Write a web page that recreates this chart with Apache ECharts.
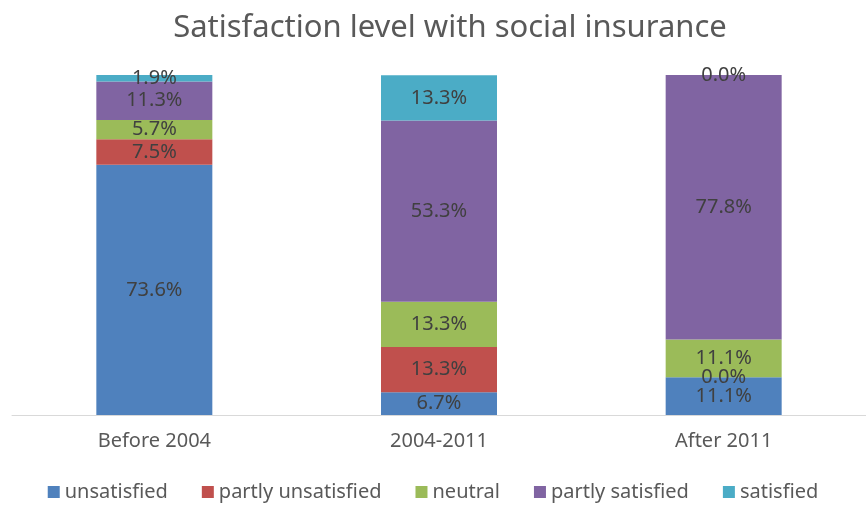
<!DOCTYPE html>
<html>
<head>
<meta charset="utf-8">
<script src="https://cdn.jsdelivr.net/npm/echarts@6/dist/echarts.min.js"></script>
<style>html,body{margin:0;padding:0;background:#fff}#c{width:866px;height:508px}</style>
</head>
<body>
<div id="c"></div>
<script>
const categories = ['Before 2004', '2004-2011', 'After 2011'];
const unsatisfied = [73.6, 6.7, 11.1];
const partlyUnsatisfied = [7.5, 13.3, 0.0];
const neutral = [5.7, 13.3, 11.1];
const partlySatisfied = [11.3, 53.3, 77.8];
const satisfied = [1.9, 13.3, 0.0];
const seriesNames = ['unsatisfied', 'partly unsatisfied', 'neutral', 'partly satisfied', 'satisfied'];
const colors = ['#4F81BD', '#C0504D', '#9BBB59', '#8064A2', '#4BACC6'];
const dataSets = [unsatisfied, partlyUnsatisfied, neutral, partlySatisfied, satisfied];

const FONT = 'Noto Sans';
const chart = echarts.init(document.getElementById('c'));
chart.setOption({
  backgroundColor: '#fff',
  animation: false,
  title: {
    text: 'Satisfaction level with social insurance',
    left: 445, top: 8, textAlign: 'center',
    textStyle: { fontFamily: FONT, fontSize: 31, fontWeight: 'normal', color: '#595959' }
  },
  legend: {
    bottom: 1, left: 'center',
    itemWidth: 12, itemHeight: 12, itemGap: 34, icon: 'rect',
    textStyle: { fontFamily: FONT, fontSize: 20, color: '#595959' }
  },
  grid: { left: 12, width: 866, top: 75, height: 340 },
  xAxis: {
    type: 'category', data: categories,
    axisLine: { lineStyle: { color: '#D9D9D9', width: 1 } },
    axisTick: { show: false },
    axisLabel: { fontFamily: FONT, fontSize: 20, color: '#595959', margin: 16 }
  },
  yAxis: { type: 'value', min: 0, max: 100, show: false, splitLine: { show: false } },
  series: seriesNames.map((n, i) => ({
    name: n, type: 'bar', stack: 'all', barWidth: 116,
    data: dataSets[i],
    itemStyle: { color: colors[i] },
    label: {
      show: true, position: 'inside',
      formatter: p => p.value.toFixed(1) + '%',
      fontFamily: FONT, fontSize: 20, color: '#404040'
    }
  }))
});
</script>
</body>
</html>
